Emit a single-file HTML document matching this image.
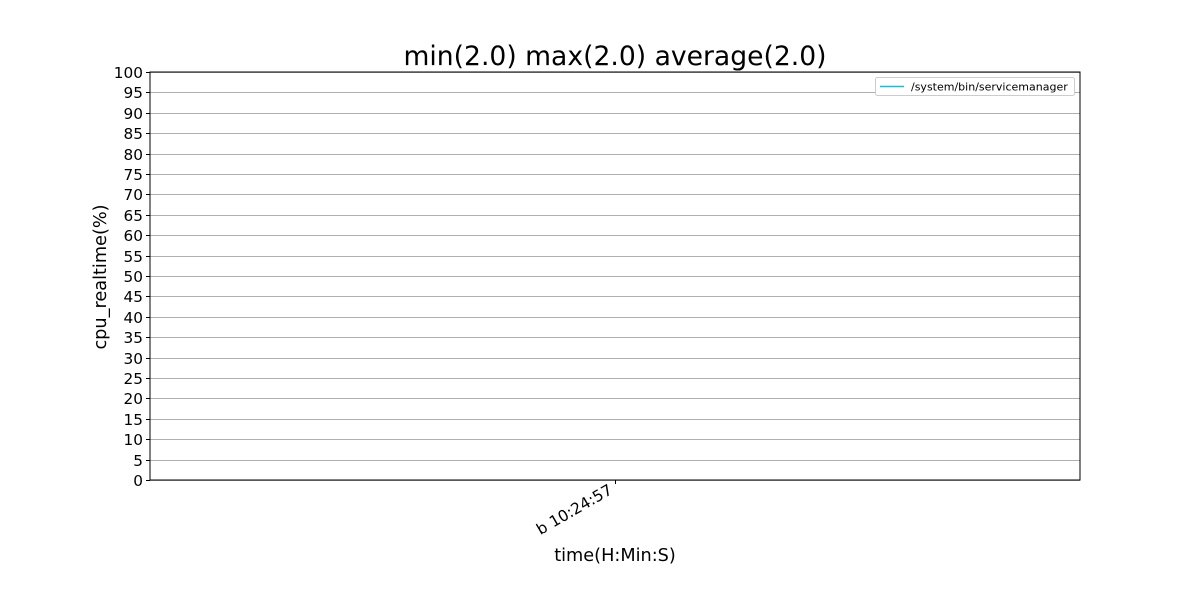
<!DOCTYPE html>
<html><head><meta charset="utf-8"><style>
body{margin:0;background:#fff;}
svg{display:block;font-family:"DejaVu Sans","Liberation Sans",sans-serif;}
</style></head><body>
<svg id="chart" width="1200" height="600">
<rect width="1200" height="600" fill="#fff"/>
<text x="615" y="65" text-anchor="middle" font-size="26.6" fill="#000">min(2.0) max(2.0) average(2.0)</text>
<g id="grid"></g>
<g id="yticks"></g>
<g id="xticks"></g>
<g id="series"></g>
<rect x="150" y="72" width="930" height="408" fill="none" stroke="#000" stroke-width="1"/>
<text transform="translate(106,277) rotate(-90)" text-anchor="middle" font-size="17.7">cpu_realtime(%)</text>
<text x="615" y="561" text-anchor="middle" font-size="17.7">time(H:Min:S)</text>
<g>
<rect x="875.5" y="77.5" width="199" height="18" rx="2" fill="#fff" stroke="#ccc"/>
<line x1="880" y1="86.5" x2="904" y2="86.5" stroke="#17becf" stroke-width="1.5"/>
<text x="911" y="90.5" font-size="11">/system/bin/servicemanager</text>
</g>
</svg>
<script>
const categories = ["b 10:24:57"];
const values = [2.0];
const yTicks = [0,5,10,15,20,25,30,35,40,45,50,55,60,65,70,75,80,85,90,95,100];
const NS="http://www.w3.org/2000/svg";
const x0=150,x1=1080,y0=480,y1=72;
function ys(v){return y0-(v/100)*(y0-y1);}
function xs(i){return categories.length===1?(x0+x1)/2:x0+(i/(categories.length-1))*(x1-x0);}
function mk(t,a,p){const e=document.createElementNS(NS,t);for(const k in a)e.setAttribute(k,a[k]);p.appendChild(e);return e;}
const grid=document.getElementById('grid'),yt=document.getElementById('yticks'),xt=document.getElementById('xticks'),se=document.getElementById('series');
yTicks.forEach(v=>{
  const y=Math.round(ys(v))+0.5;
  const g=mk('line',{x1:x0,x2:x1,y1:y,y2:y,stroke:'#b0b0b0','stroke-width':1},grid);
  
  
  mk('line',{x1:x0-4,x2:x0,y1:y,y2:y,stroke:'#000'},yt);
  const t=mk('text',{x:x0-7,y:y+5.5,'text-anchor':'end','font-size':15.3},yt);
  t.textContent=v;
  
  
});
categories.forEach((c,i)=>{
  const x=Math.round(xs(i))+0.5;
  mk('line',{x1:x,x2:x,y1:y0,y2:y0+4,stroke:'#000'},xt);
  const t=mk('text',{transform:`translate(${x-2},${y0+13}) rotate(-30)`,'text-anchor':'end','font-size':15.5},xt);
  t.textContent=c;
  
  
});
const pts=values.map((v,i)=>xs(i)+','+ys(v)).join(' ');
const pl=mk('polyline',{points:pts,fill:'none',stroke:'#17becf','stroke-width':1.5},se);


</script>
</body></html>
